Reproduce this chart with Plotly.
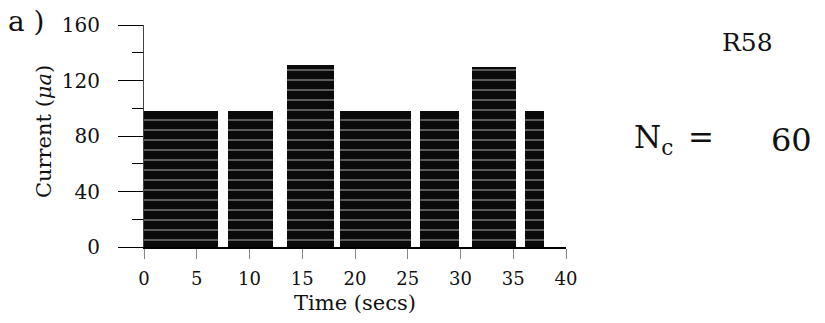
import plotly.graph_objects as go

# Data
seg_start = [0.0, 8.0, 13.6, 18.6, 26.2, 31.1, 36.1]   # secs
seg_end = [7.0, 12.2, 18.0, 25.3, 29.9, 35.3, 37.9]    # secs
current = [98, 98, 131, 98, 98, 130, 98]              # micro-amps
x_ticks = [0, 5, 10, 15, 20, 25, 30, 35, 40]
y_ticks = [0, 40, 80, 120, 160]

centers = [(a + b) / 2 for a, b in zip(seg_start, seg_end)]
widths = [b - a for a, b in zip(seg_start, seg_end)]

FONT = "DejaVu Serif"

fig = go.Figure()
fig.add_trace(go.Bar(
    x=centers, y=current, width=widths,
    marker=dict(color="black", line=dict(width=0),
                pattern=dict(shape="-", fgcolor="white", bgcolor="#0a0a0a",
                             size=10, solidity=0.13)),
    showlegend=False, hoverinfo="skip",
))

fig.update_layout(
    width=825, height=323,
    margin=dict(l=144, r=259, t=25, b=76),
    paper_bgcolor="white", plot_bgcolor="white",
    font=dict(family=FONT, color="black"),
    bargap=0,
)
fig.update_xaxes(
    range=[0, 40], tickvals=x_ticks, ticktext=[str(v) for v in x_ticks],
    showgrid=False, zeroline=False,
    showline=True, linecolor="black", linewidth=1.5,
    ticks="outside", ticklen=10, tickwidth=1, tickcolor="#888",
    ticklabelstandoff=5,
    tickfont=dict(family=FONT, size=18, color="#111"),
)
fig.update_yaxes(
    range=[0, 160], tickvals=y_ticks, ticktext=[str(v) for v in y_ticks],
    showgrid=False, zeroline=False,
    showline=True, linecolor="#444", linewidth=1,
    ticks="outside", ticklen=25, tickwidth=1.3, tickcolor="black",
    minor=dict(dtick=20, ticks="outside", ticklen=11, tickwidth=1, tickcolor="black"),
    ticklabelstandoff=14,
    tickfont=dict(family=FONT, size=20, color="#111"),
)

anns = [
    dict(text="a )", x=-0.326, y=1.015, xanchor="left", yanchor="middle", size=28),
    dict(text="R58", x=1.429, y=0.923, xanchor="center", yanchor="middle", size=25),
    dict(text="N<sub>c</sub>", x=1.156, y=0.482, xanchor="left", yanchor="middle", size=31),
    dict(text="=", x=1.320, y=0.495, xanchor="center", yanchor="middle", size=31),
    dict(text="60", x=1.534, y=0.482, xanchor="center", yanchor="middle", size=32),
    dict(text="Time (secs)", x=0.5, y=-0.252, xanchor="center", yanchor="middle", size=21),
]
for a in anns:
    fig.add_annotation(text=a["text"], x=a["x"], y=a["y"], xref="paper", yref="paper",
                       xanchor=a["xanchor"], yanchor=a["yanchor"], showarrow=False,
                       font=dict(family=FONT, size=a["size"], color="#111"))
fig.add_annotation(text="Current (<i>μa</i>)", x=-0.237, y=0.522, xref="paper", yref="paper",
                   textangle=-90, showarrow=False, xanchor="center", yanchor="middle",
                   font=dict(family=FONT, size=21, color="#111"))

fig.write_html("out.html")
